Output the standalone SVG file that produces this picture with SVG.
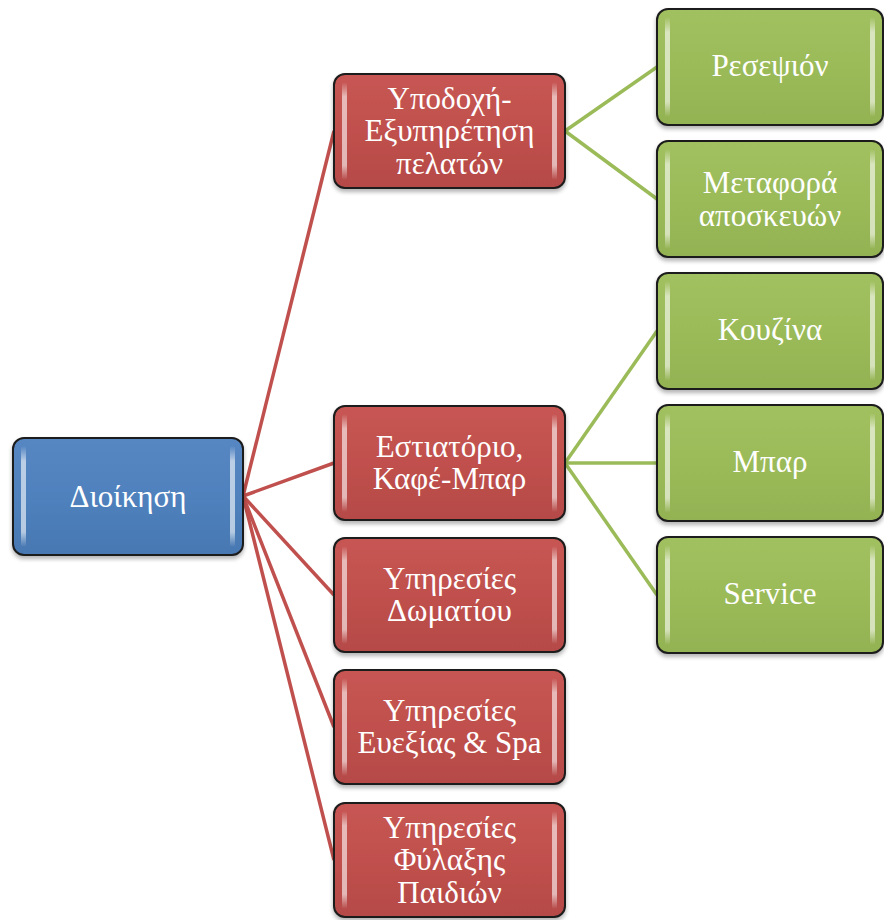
<svg xmlns="http://www.w3.org/2000/svg" width="884" height="920" viewBox="0 0 884 920">
<defs>
<linearGradient id="gBlue" x1="0" y1="0" x2="0" y2="1">
<stop offset="0" stop-color="#5787c3"/><stop offset="0.5" stop-color="#4f81bd"/><stop offset="1" stop-color="#4778b2"/>
</linearGradient>
<linearGradient id="gRed" x1="0" y1="0" x2="0" y2="1">
<stop offset="0" stop-color="#c75653"/><stop offset="0.5" stop-color="#c0504d"/><stop offset="1" stop-color="#b54a47"/>
</linearGradient>
<linearGradient id="gGreen" x1="0" y1="0" x2="0" y2="1">
<stop offset="0" stop-color="#a1c05f"/><stop offset="0.5" stop-color="#9bbb59"/><stop offset="1" stop-color="#93b252"/>
</linearGradient>
<linearGradient id="hl" x1="0" y1="0" x2="0" y2="1">
<stop offset="0" stop-color="#fff" stop-opacity="0"/><stop offset="0.15" stop-color="#fff" stop-opacity="0.6"/><stop offset="0.85" stop-color="#fff" stop-opacity="0.6"/><stop offset="1" stop-color="#fff" stop-opacity="0"/>
</linearGradient>
<filter id="sh" x="-10%" y="-10%" width="120%" height="125%">
<feGaussianBlur in="SourceAlpha" stdDeviation="2"/><feOffset dx="0" dy="3" result="b"/>
<feComponentTransfer><feFuncA type="linear" slope="0.3"/></feComponentTransfer>
<feMerge><feMergeNode/><feMergeNode in="SourceGraphic"/></feMerge>
</filter>
</defs>
<style>
.box{stroke:#1c1c1c;stroke-width:2;filter:url(#sh)}
.blue{fill:url(#gBlue)}
.red{fill:url(#gRed)}
.green{fill:url(#gGreen)}
.h{fill:url(#hl)}
text{font-family:"Liberation Serif","Times New Roman",serif;font-size:31px;fill:#fff;text-anchor:middle}
.cr{stroke:#c0504d;stroke-width:3.5;fill:none}
.cg{stroke:#9bbb59;stroke-width:3.5;fill:none}
</style>
<g id="connectors">
<line class="cr" x1="243" y1="496" x2="334" y2="131"/>
<line class="cr" x1="243" y1="496" x2="334" y2="463"/>
<line class="cr" x1="243" y1="496" x2="334" y2="595"/>
<line class="cr" x1="243" y1="496" x2="334" y2="727"/>
<line class="cr" x1="243" y1="496" x2="334" y2="860"/>
<line class="cg" x1="565" y1="131" x2="657" y2="67"/>
<line class="cg" x1="565" y1="131" x2="657" y2="199"/>
<line class="cg" x1="565" y1="463" x2="657" y2="331"/>
<line class="cg" x1="565" y1="463" x2="657" y2="463"/>
<line class="cg" x1="565" y1="463" x2="657" y2="595"/>
</g>
<g id="root">
<rect class="box blue" x="13" y="438" width="230" height="117" rx="11"/>
<rect class="h" x="21" y="446" width="5" height="101" rx="2.5"/>
<rect class="h" x="230" y="446" width="5" height="101" rx="2.5"/>
<text x="128" y="507">Διοίκηση</text>
</g>
<g id="n-ypodoxi">
<rect class="box red" x="334" y="74" width="231" height="114" rx="11"/>
<rect class="h" x="342" y="82" width="5" height="98" rx="2.5"/>
<rect class="h" x="552" y="82" width="5" height="98" rx="2.5"/>
<text x="449.5" y="108.5">Υποδοχή-</text>
<text x="449.5" y="141">Εξυπηρέτηση</text>
<text x="449.5" y="173.5">πελατών</text>
</g>
<g id="n-estiatorio">
<rect class="box red" x="334" y="406" width="231" height="114" rx="11"/>
<rect class="h" x="342" y="414" width="5" height="98" rx="2.5"/>
<rect class="h" x="552" y="414" width="5" height="98" rx="2.5"/>
<text x="449.5" y="457">Εστιατόριο,</text>
<text x="449.5" y="489">Καφέ-Μπαρ</text>
</g>
<g id="n-domatiou">
<rect class="box red" x="334" y="538" width="231" height="114" rx="11"/>
<rect class="h" x="342" y="546" width="5" height="98" rx="2.5"/>
<rect class="h" x="552" y="546" width="5" height="98" rx="2.5"/>
<text x="449.5" y="589">Υπηρεσίες</text>
<text x="449.5" y="621">Δωματίου</text>
</g>
<g id="n-spa">
<rect class="box red" x="334" y="670" width="231" height="114" rx="11"/>
<rect class="h" x="342" y="678" width="5" height="98" rx="2.5"/>
<rect class="h" x="552" y="678" width="5" height="98" rx="2.5"/>
<text x="449.5" y="721">Υπηρεσίες</text>
<text x="449.5" y="753">Ευεξίας &amp; Spa</text>
</g>
<g id="n-paidion">
<rect class="box red" x="334" y="803" width="231" height="114" rx="11"/>
<rect class="h" x="342" y="811" width="5" height="98" rx="2.5"/>
<rect class="h" x="552" y="811" width="5" height="98" rx="2.5"/>
<text x="449.5" y="837.5">Υπηρεσίες</text>
<text x="449.5" y="870">Φύλαξης</text>
<text x="449.5" y="902.5">Παιδιών</text>
</g>
<g id="g-resepsion">
<rect class="box green" x="657" y="9" width="226" height="116" rx="11"/>
<rect class="h" x="665" y="17" width="5" height="100" rx="2.5"/>
<rect class="h" x="870" y="17" width="5" height="100" rx="2.5"/>
<text x="770" y="76">Ρεσεψιόν</text>
</g>
<g id="g-metafora">
<rect class="box green" x="657" y="141" width="226" height="116" rx="11"/>
<rect class="h" x="665" y="149" width="5" height="100" rx="2.5"/>
<rect class="h" x="870" y="149" width="5" height="100" rx="2.5"/>
<text x="770" y="193">Μεταφορά</text>
<text x="770" y="226">αποσκευών</text>
</g>
<g id="g-kouzina">
<rect class="box green" x="657" y="273" width="226" height="116" rx="11"/>
<rect class="h" x="665" y="281" width="5" height="100" rx="2.5"/>
<rect class="h" x="870" y="281" width="5" height="100" rx="2.5"/>
<text x="770" y="340">Κουζίνα</text>
</g>
<g id="g-bar">
<rect class="box green" x="657" y="405" width="226" height="116" rx="11"/>
<rect class="h" x="665" y="413" width="5" height="100" rx="2.5"/>
<rect class="h" x="870" y="413" width="5" height="100" rx="2.5"/>
<text x="770" y="472">Μπαρ</text>
</g>
<g id="g-service">
<rect class="box green" x="657" y="537" width="226" height="116" rx="11"/>
<rect class="h" x="665" y="545" width="5" height="100" rx="2.5"/>
<rect class="h" x="870" y="545" width="5" height="100" rx="2.5"/>
<text x="770" y="604">Service</text>
</g>
</svg>
